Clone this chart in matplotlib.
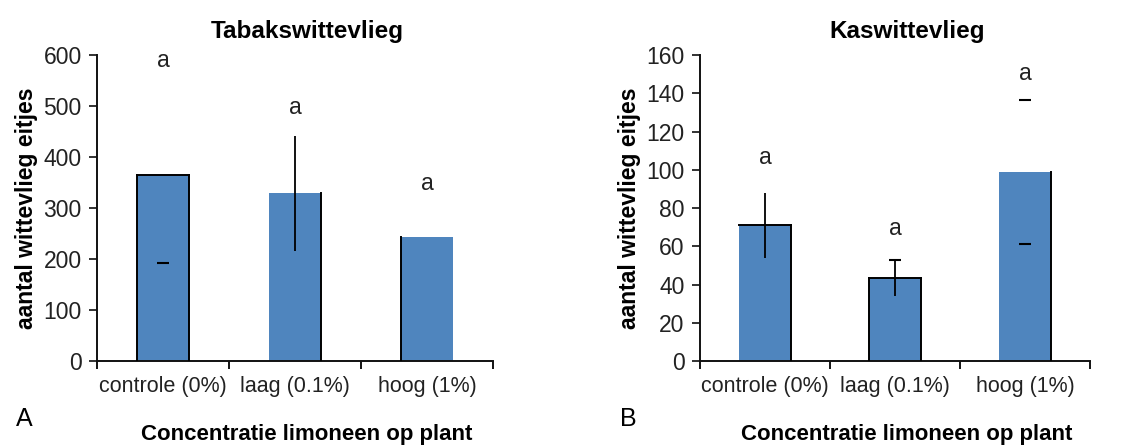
import matplotlib
matplotlib.use("Agg")
import matplotlib.pyplot as plt

plt.rcParams.update({
    "font.family": ["Liberation Sans", "DejaVu Sans"],
    "axes.spines.top": False,
    "axes.spines.right": False,
})

BLAUW = "#4F85BE"
TEKST = "#222222"

# ── Data ─────────────────────────────────────────────────────────────────────
categorieen = ["controle (0%)", "laag (0.1%)", "hoog (1%)"]

tabak_waarden = [365, 329, 243]
tabak_fout = [173, 113, 0]
tabak_letters = ["a", "a", "a"]
tabak_letter_y = [590, 497, 349]

kas_waarden = [71, 43.4, 98.8]
kas_fout = [17, 9.4, 37.6]
kas_letters = ["a", "a", "a"]
kas_letter_y = [106.5, 69.5, 150.5]

# welke delen van randen / foutbalken zichtbaar zijn (zoals in het origineel)
tabak_randen = ["ltr", "r", "l"]
tabak_stijl = [(False, True, False), (True, False, False), (False, False, False)]
kas_randen = ["tr", "ltr", "r"]
kas_stijl = [(True, False, False), (True, False, True), (False, True, True)]


def paneel(fig, ax, waarden, fout, letters, letter_y, randen, stijl, ymax, ystap,
           titel, paneel_letter):
    x = list(range(len(categorieen)))
    bars = ax.bar(x, waarden, width=0.4, color=BLAUW, linewidth=0)
    for b, kanten in zip(bars, randen):
        x0, x1, h = b.get_x(), b.get_x() + b.get_width(), b.get_height()
        if "l" in kanten:
            ax.plot([x0, x0], [0, h], color="black", lw=1.4, zorder=3)
        if "r" in kanten:
            ax.plot([x1, x1], [0, h], color="black", lw=1.4, zorder=3)
        if "t" in kanten:
            ax.plot([x0, x1], [h, h], color="black", lw=1.4, zorder=3)
    for xi, v, e, (lijn, onder, boven) in zip(x, waarden, fout, stijl):
        if lijn:
            ax.vlines(xi, v - e, v + e, color="black", lw=1.3, zorder=4)
        if onder:
            ax.plot(xi, v - e, marker="_", ms=9, mew=1.5, color="black", zorder=4)
        if boven:
            ax.plot(xi, v + e, marker="_", ms=9, mew=1.5, color="black", zorder=4)
    for xi, ly, l in zip(x, letter_y, letters):
        ax.text(xi, ly, l, ha="center", va="center", fontsize=16.5, color=TEKST)

    ax.set_xlim(-0.5, 2.5)
    ax.set_ylim(0, ymax)
    ax.set_yticks(range(0, ymax + 1, ystap))
    ax.set_xticks(x)
    ax.set_xticklabels(categorieen)
    ax.set_xticks([-0.5, 0.5, 1.5, 2.5], minor=True)
    ax.tick_params(axis="x", which="major", length=0, pad=11, labelsize=15.5,
                   colors=TEKST)
    ax.tick_params(axis="x", which="minor", length=6, width=1.3, direction="out")
    ax.tick_params(axis="y", length=6, width=1.3, pad=5, labelsize=16.5,
                   colors=TEKST)
    for s in ["left", "bottom"]:
        ax.spines[s].set_linewidth(1.4)
        ax.spines[s].set_color("#111111")
    ax.set_title(titel, fontsize=17.5, fontweight="bold", pad=12, x=0.53)
    ax.set_ylabel("aantal wittevlieg eitjes", fontsize=16.5, fontweight="bold",
                  labelpad=4)
    # x-as titel onder de panelletter
    pos = ax.get_position()
    fig.text(pos.x0 + pos.width * 0.53, 0.03, "Concentratie limoneen op plant",
             fontsize=16, fontweight="bold", ha="center", va="center")
    ax.text(-0.205, -0.19, paneel_letter, transform=ax.transAxes, fontsize=18,
            ha="left", va="center")


fig = plt.figure(figsize=(11.25, 4.48), dpi=100)
ax1 = fig.add_axes([0.0862, 0.1942, 0.352, 0.683])
ax2 = fig.add_axes([0.6222, 0.1942, 0.3467, 0.683])

paneel(fig, ax1, tabak_waarden, tabak_fout, tabak_letters, tabak_letter_y,
       tabak_randen, tabak_stijl, 600, 100, "Tabakswittevlieg", "A")
paneel(fig, ax2, kas_waarden, kas_fout, kas_letters, kas_letter_y,
       kas_randen, kas_stijl, 160, 20, "Kaswittevlieg", "B")

fig.savefig("out.png", dpi=100)
